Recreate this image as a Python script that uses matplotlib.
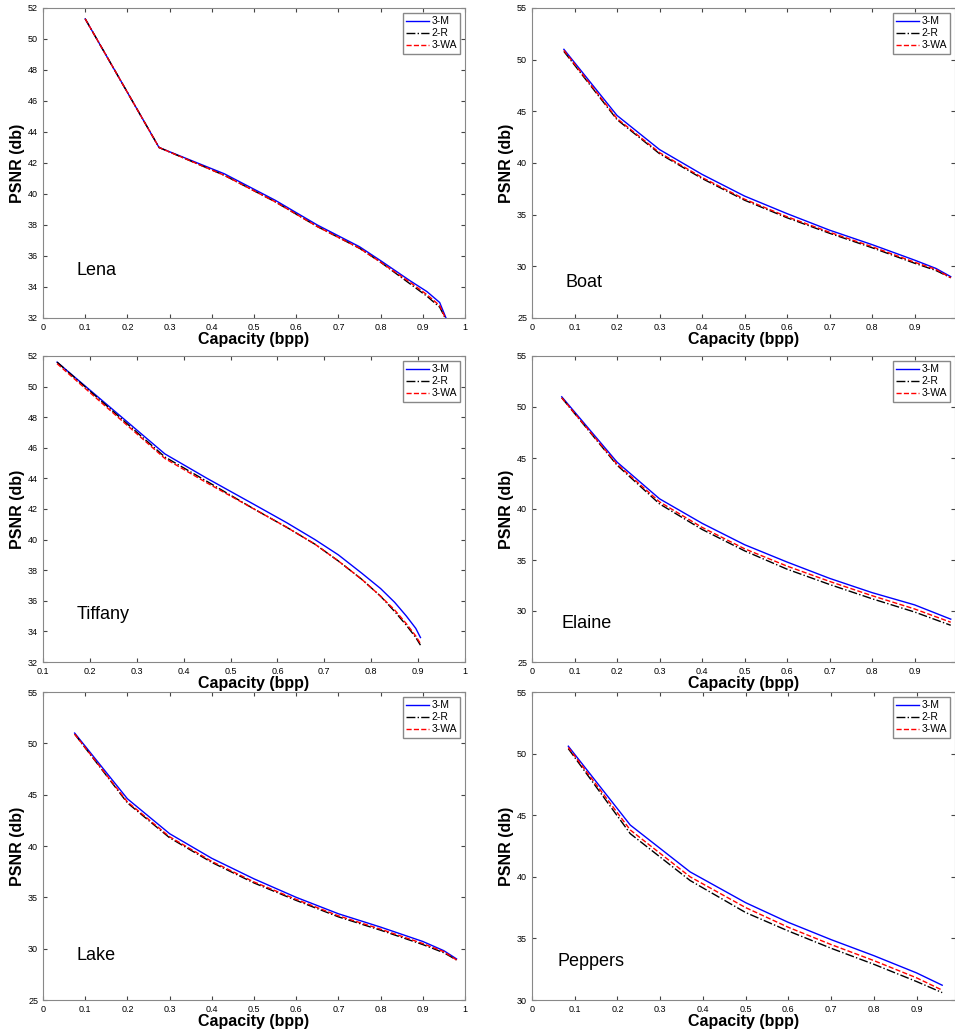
import numpy as np
import matplotlib.pyplot as plt

plt.rcParams['font.family'] = ['Liberation Sans', 'DejaVu Sans']

# Lena
lena_x = [0.10, 0.275, 0.43, 0.55, 0.65, 0.75, 0.80, 0.87, 0.91, 0.94, 0.955]
lena_m = [51.3, 43.0, 41.3, 39.6, 38.0, 36.6, 35.7, 34.4, 33.7, 33.0, 32.0]
lena_r = [51.3, 43.0, 41.2, 39.5, 37.9, 36.5, 35.6, 34.2, 33.4, 32.7, 31.9]
lena_wa = [51.3, 43.0, 41.2, 39.5, 37.9, 36.5, 35.6, 34.3, 33.5, 32.8, 31.9]

# Boat
boat_x = [0.075, 0.2, 0.3, 0.4, 0.5, 0.6, 0.7, 0.8, 0.9, 0.95, 0.985]
boat_m = [51.0, 44.6, 41.3, 38.9, 36.8, 35.1, 33.5, 32.1, 30.6, 29.8, 29.0]
boat_r = [50.8, 44.2, 40.9, 38.5, 36.4, 34.7, 33.2, 31.8, 30.3, 29.6, 28.9]
boat_wa = [50.9, 44.3, 41.0, 38.6, 36.5, 34.8, 33.3, 31.9, 30.4, 29.7, 28.9]

# Tiffany
tif_x = [0.13, 0.36, 0.45, 0.55, 0.62, 0.68, 0.73, 0.78, 0.82, 0.85, 0.875, 0.895, 0.905]
tif_m = [51.6, 45.6, 44.0, 42.3, 41.1, 40.0, 39.0, 37.8, 36.8, 35.9, 35.0, 34.2, 33.6]
tif_r = [51.6, 45.4, 43.8, 42.0, 40.8, 39.7, 38.6, 37.4, 36.3, 35.3, 34.4, 33.6, 33.1]
tif_wa = [51.5, 45.3, 43.7, 42.0, 40.8, 39.7, 38.6, 37.4, 36.3, 35.4, 34.5, 33.7, 33.2]

# Elaine
ela_x = [0.07, 0.2, 0.3, 0.4, 0.5, 0.6, 0.7, 0.8, 0.9, 0.985]
ela_m = [51.0, 44.6, 41.0, 38.6, 36.5, 34.8, 33.2, 31.8, 30.6, 29.2]
ela_r = [50.9, 44.3, 40.5, 38.0, 35.9, 34.1, 32.6, 31.2, 29.9, 28.6]
ela_wa = [50.9, 44.4, 40.7, 38.2, 36.1, 34.4, 32.9, 31.5, 30.2, 28.9]

# Lake
lake_x = [0.075, 0.2, 0.3, 0.4, 0.5, 0.6, 0.7, 0.8, 0.9, 0.95, 0.98]
lake_m = [51.0, 44.6, 41.2, 38.8, 36.8, 35.0, 33.4, 32.1, 30.7, 29.8, 29.0]
lake_r = [50.9, 44.2, 40.8, 38.4, 36.4, 34.7, 33.1, 31.8, 30.4, 29.6, 28.9]
lake_wa = [50.9, 44.3, 40.9, 38.5, 36.5, 34.8, 33.2, 31.9, 30.5, 29.7, 28.9]

# Peppers
pep_x = [0.085, 0.23, 0.37, 0.5, 0.6, 0.7, 0.8, 0.9, 0.96]
pep_m = [50.6, 44.2, 40.4, 37.9, 36.3, 34.9, 33.6, 32.2, 31.2]
pep_r = [50.4, 43.5, 39.7, 37.1, 35.6, 34.2, 32.9, 31.5, 30.6]
pep_wa = [50.5, 43.8, 40.0, 37.5, 35.9, 34.5, 33.2, 31.8, 30.8]

panels = [
    ('Lena', lena_x, lena_m, lena_r, lena_wa, (0, 1), (32, 52), np.arange(32, 53, 2), np.arange(0, 1.01, 0.1), (0.08, 0.14)),
    ('Boat', boat_x, boat_m, boat_r, boat_wa, (0, 0.995), (25, 55), np.arange(25, 56, 5), np.arange(0, 0.91, 0.1), (0.08, 0.10)),
    ('Tiffany', tif_x, tif_m, tif_r, tif_wa, (0.1, 1), (32, 52), np.arange(32, 53, 2), np.arange(0.1, 1.01, 0.1), (0.08, 0.14)),
    ('Elaine', ela_x, ela_m, ela_r, ela_wa, (0, 0.995), (25, 55), np.arange(25, 56, 5), np.arange(0, 0.91, 0.1), (0.07, 0.11)),
    ('Lake', lake_x, lake_m, lake_r, lake_wa, (0, 1), (25, 55), np.arange(25, 56, 5), np.arange(0, 1.01, 0.1), (0.08, 0.13)),
    ('Peppers', pep_x, pep_m, pep_r, pep_wa, (0, 0.99), (30, 55), np.arange(30, 56, 5), np.arange(0, 0.91, 0.1), (0.06, 0.11)),
]

W, H = 955, 1031
fig = plt.figure(figsize=(W / 100, H / 100), dpi=100)

lefts = [43, 532]
widths = [422, 423]
tops = [8, 356, 692]
bottoms = [318, 662, 1000]

for i, (name, x, m, r, wa, xl, yl, yt, xt, tpos) in enumerate(panels):
    row, col = i // 2, i % 2
    l = lefts[col]
    ax = fig.add_axes([l / W, 1 - bottoms[row] / H, widths[col] / W, (bottoms[row] - tops[row]) / H])
    ax.plot(x, m, color='#0000ff', lw=1.0, label='3-M')
    ax.plot(x, r, color='black', lw=1.0, ls='-.', label='2-R')
    ax.plot(x, wa, color='red', lw=1.0, ls='--', label='3-WA')
    ax.set_xlim(*xl)
    ax.set_ylim(*yl)
    ax.set_yticks(yt)
    ax.set_xticks(xt)
    ax.set_xticklabels(['%g' % v for v in xt])
    ax.tick_params(direction='in', labelsize=6.5, top=True, right=True, colors='#444444', length=3)
    ax.tick_params(labelcolor='black')
    for s in ax.spines.values():
        s.set_color('#888888')
    ax.set_xlabel('Capacity (bpp)', fontsize=11.5, fontweight='bold', labelpad=0)
    ax.set_ylabel('PSNR (db)', fontsize=11.5, fontweight='bold', labelpad=2)
    ax.text(tpos[0], tpos[1], name, transform=ax.transAxes, fontsize=13)
    leg = ax.legend(loc='upper right', fontsize=7.5, handlelength=2.2, borderpad=0.3,
                    labelspacing=0.2, handletextpad=0.2, fancybox=False, framealpha=1)
    leg.get_frame().set_edgecolor('#888888')

fig.savefig('out.png', dpi=100)
